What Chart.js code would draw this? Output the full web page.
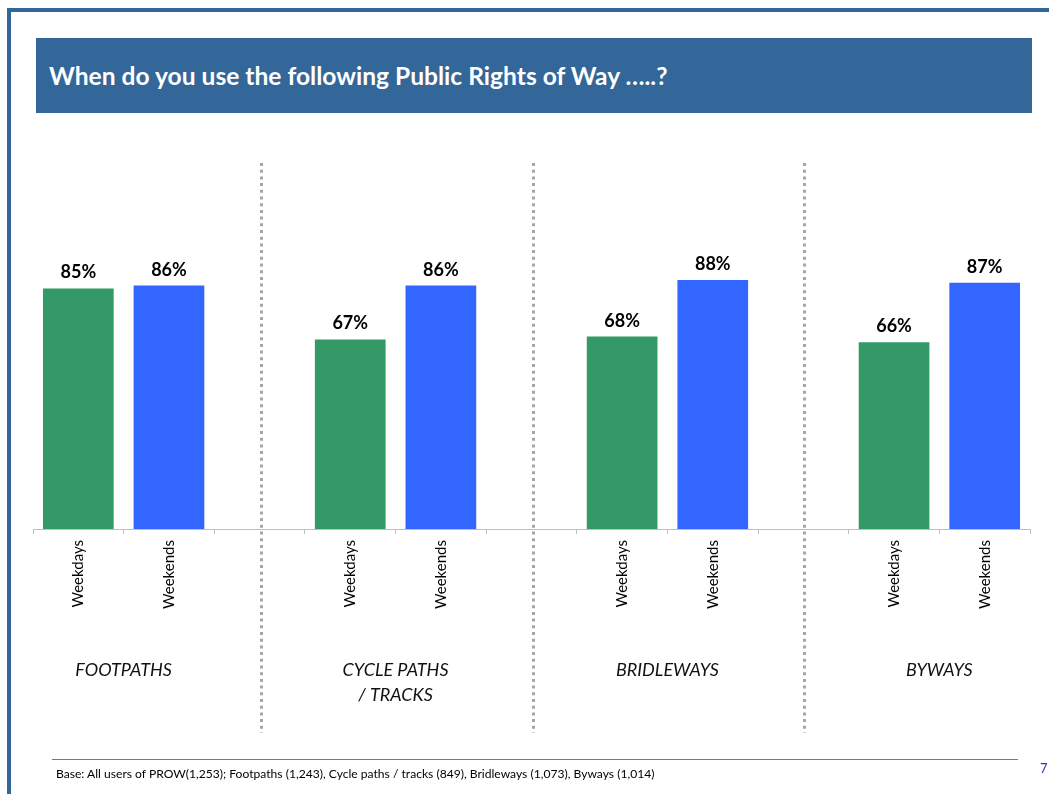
<!DOCTYPE html>
<html>
<head>
<meta charset="utf-8">
<script src="https://cdn.jsdelivr.net/npm/chart.js@4.4.1/dist/chart.umd.min.js"></script>
<style>
  html, body { margin: 0; padding: 0; background: #fff; }
  body { width: 1049px; height: 794px; position: relative; overflow: hidden; font-family: Lato, "Open Sans", sans-serif; }
  .frame-top { position: absolute; left: 7px; top: 8px; width: 1042px; height: 4px; background: #336699; }
  .frame-left { position: absolute; left: 7px; top: 8px; width: 4px; height: 786px; background: #336699; }
  .header { position: absolute; left: 36px; top: 38px; width: 996px; height: 75px; background: #336699; }
  .header h1 { margin: 0; position: absolute; left: 13px; top: 23px; font-size: 24.6px; line-height: 30px; font-weight: 700; color: #fff; white-space: nowrap; }
  .rule { position: absolute; left: 52px; top: 759px; width: 966px; height: 1px; background: #4f81bd; }
  .base { position: absolute; left: 56px; top: 766px; font-size: 12.1px; color: #000; white-space: nowrap; }
  .page { position: absolute; left: 1040px; top: 760px; font-size: 13px; color: #3333cc; }
  #wrap { position: absolute; left: 0; top: 0; width: 1049px; height: 794px; }
</style>
</head>
<body>
<div class="frame-top"></div>
<div class="frame-left"></div>
<div class="header"><h1>When do you use the following Public Rights of Way …..?</h1></div>
<div id="wrap"><canvas id="chart"></canvas></div>
<div class="rule"></div>
<div class="base">Base: All users of PROW(1,253); Footpaths (1,243), Cycle paths / tracks (849), Bridleways (1,073), Byways (1,014)</div>
<div class="page">7</div>
<script>
// Route types (multi-line names are arrays of lines)
const groups = [['FOOTPATHS'], ['CYCLE PATHS', '/ TRACKS'], ['BRIDLEWAYS'], ['BYWAYS']];
// Percentage of users per route type
const weekdays = [85, 67, 68, 66];
const weekends = [86, 86, 88, 87];
const tickLabels = ['Weekdays', 'Weekends'];

const GREEN = '#339966';
const BLUE = '#3366ff';

// Each route type gets two bars followed by an empty spacer slot
const labels = [];
const weekdayData = [];
const weekendData = [];
groups.forEach((g, i) => {
  labels.push(tickLabels[0], tickLabels[1]);
  weekdayData.push(weekdays[i], null);
  weekendData.push(null, weekends[i]);
  if (i < groups.length - 1) {
    labels.push('');
    weekdayData.push(null);
    weekendData.push(null);
  }
});

const decorations = {
  id: 'decorations',
  afterDatasetsDraw(chart) {
    const { ctx } = chart;
    const x = chart.scales.x;
    ctx.save();
    // value labels above each bar
    ctx.font = 'bold 18px Lato, sans-serif';
    ctx.fillStyle = '#000';
    ctx.textAlign = 'center';
    ctx.textBaseline = 'alphabetic';
    chart.data.datasets.forEach((ds, di) => {
      chart.getDatasetMeta(di).data.forEach((bar, i) => {
        const v = ds.data[i];
        if (v === null) return;
        ctx.fillText(v + '%', bar.x, bar.y - 10);
      });
    });
    // dotted separators in the spacer slots
    ctx.strokeStyle = '#a6a6a6';
    ctx.lineWidth = 3;
    ctx.setLineDash([3, 3.7]);
    labels.forEach((l, i) => {
      if (l !== '') return;
      const px = Math.round(x.getPixelForValue(i)) + 1.5;
      ctx.beginPath();
      ctx.moveTo(px, 163);
      ctx.lineTo(px, 733);
      ctx.stroke();
    });
    ctx.setLineDash([]);
    // route type names under each pair of bars
    ctx.font = 'italic 18px Lato, sans-serif';
    ctx.fillStyle = '#111';
    groups.forEach((g, i) => {
      const cx = (x.getPixelForValue(i * 3) + x.getPixelForValue(i * 3 + 1)) / 2;
      g.forEach((line, j) => ctx.fillText(line, cx, 676 + j * 25));
    });
    ctx.restore();
  }
};

new Chart(document.getElementById('chart'), {
  type: 'bar',
  data: {
    labels,
    datasets: [
      { label: 'Weekdays', data: weekdayData, backgroundColor: GREEN },
      { label: 'Weekends', data: weekendData, backgroundColor: BLUE }
    ]
  },
  options: {
    responsive: true,
    maintainAspectRatio: false,
    animation: false,
    skipNull: true,
    categoryPercentage: 1,
    barPercentage: 0.78,
    layout: { padding: { left: 33, right: 19, top: 246, bottom: 0 } },
    plugins: { legend: { display: false }, tooltip: { enabled: false } },
    scales: {
      y: { display: false, min: 0, max: 100 },
      x: {
        afterFit(scale) { scale.height = 265; },
        border: { color: '#bfbfbf', width: 1 },
        grid: { offset: true, drawOnChartArea: false, drawTicks: true, tickLength: 5, color: '#bfbfbf' },
        ticks: {
          minRotation: 90, maxRotation: 90, autoSkip: false, padding: 6,
          color: '#000', font: { family: 'Lato, sans-serif', size: 15 }
        }
      }
    }
  },
  plugins: [decorations]
});
</script>
</body>
</html>
